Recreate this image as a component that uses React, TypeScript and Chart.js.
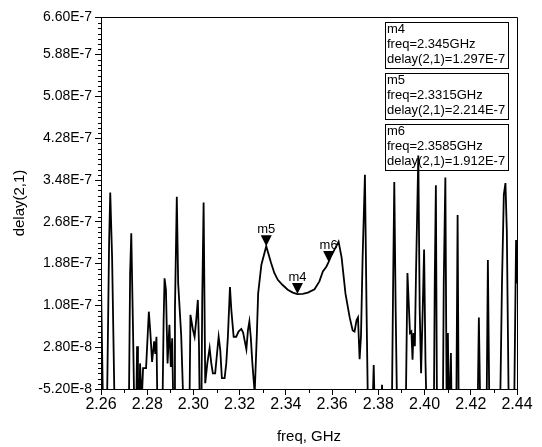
import React, { useEffect, useRef } from 'react';
import { Chart, registerables } from 'chart.js';

Chart.register(...registerables);

// Frequency samples (GHz)
const freqGHz = [
  2.2600, 2.2610, 2.2625, 2.2635, 2.2640, 2.2648, 2.2660, 2.2720, 2.2726, 2.2731,
  2.2739, 2.2745, 2.2752, 2.2756, 2.2760, 2.2765, 2.2769, 2.2776, 2.2782, 2.2795,
  2.2807, 2.2813, 2.2821, 2.2830, 2.2835, 2.2840, 2.2845, 2.2865, 2.2871, 2.2875,
  2.2881, 2.2888, 2.2896, 2.2902, 2.2908, 2.2914, 2.2917, 2.2920, 2.2928, 2.2934,
  2.2947, 2.2959, 2.2982, 2.2987, 2.2998, 2.3005, 2.3012, 2.3019, 2.3024, 2.3028,
  2.3034, 2.3038, 2.3044, 2.3051, 2.3060, 2.3070, 2.3077, 2.3084, 2.3094, 2.3102,
  2.3109, 2.3116, 2.3123, 2.3135, 2.3142, 2.3149, 2.3158, 2.3164, 2.3174, 2.3185,
  2.3195, 2.3207, 2.3215, 2.3221, 2.3229, 2.3236, 2.3242, 2.3248, 2.3255, 2.3265,
  2.3274, 2.3280, 2.3294, 2.3315, 2.3336, 2.3350, 2.3365, 2.3386, 2.3408, 2.3430,
  2.3450, 2.3473, 2.3495, 2.3524, 2.3545, 2.3560, 2.3575, 2.3585, 2.3594, 2.3628,
  2.3641, 2.3658, 2.3676, 2.3689, 2.3697, 2.3706, 2.3712, 2.3719, 2.3725, 2.3732,
  2.3742, 2.3749, 2.3756, 2.3773, 2.3780, 2.3786, 2.3810, 2.3816, 2.3821, 2.3858,
  2.3864, 2.3869, 2.3875, 2.3882, 2.3918, 2.3926, 2.3937, 2.3943, 2.3948, 2.3952,
  2.3958, 2.3963, 2.3973, 2.3979, 2.3985, 2.3992, 2.3998, 2.4004, 2.4010, 2.4040,
  2.4044, 2.4049, 2.4054, 2.4079, 2.4083, 2.4090, 2.4096, 2.4101, 2.4105, 2.4114,
  2.4118, 2.4137, 2.4143, 2.4148, 2.4229, 2.4235, 2.4242, 2.4268, 2.4274, 2.4281,
  2.4326, 2.4335, 2.4343, 2.4350, 2.4356, 2.4365, 2.4387, 2.4396, 2.4400,
];

// Group delay, in units of 1E-8 s
const delayE8 = [
  15.1, -12, -12, 22.7, 32.4, 20, -12, -12, 17, 24.6,
  5, -12, -12, 3.0, -8, -12, -0.3, -8, -1.2, -1.2,
  9.6, 6, 0, 3.9, 1.5, 4.8, -12, -12, 8, 16.0,
  13.8, -0.3, 7.1, -1.0, 4.5, -12, -12, 10, 31.6, 15,
  5.1, -12, -12, 9.0, 6.1, 4.8, 8.0, 11.85, 3, -12,
  -12, 11.85, 30.5, -4.1, -0.3, 2.66, -0.2, -2.2, -2.2, 1.6,
  4.8, 2.3, -3.1, -3.1, -0.3, 4.8, 14.3, 9.9, 4.8, 4.8,
  5.8, 6.3, 5.6, 4.2, 2.4, 6.1, 7.7, 4.8, -0.3, -6,
  4.8, 13.1, 18.6, 22.14, 18.9, 17.0, 15.7, 14.7, 13.8, 13.25,
  12.97, 13.0, 13.25, 13.9, 15.4, 17.3, 18.2, 19.12, 20.1, 23.0,
  20, 13, 8.5, 6.0, 5.8, 8.0, 8.5, 0.5, 5, 20,
  35.8, 10, -12, -12, -0.6, -12, -12, -4.4, -12, -12,
  15, 34.4, 10, -12, -12, 17, 5.5, 5.8, 0.4, 5.5,
  3, 17, 39.5, 10, -2.2, 10, 21.5, 0, -12, -12,
  15, 33.8, -12, -12, 15, 35.3, -12, 5.5, -12, 1.7,
  -12, -12, 28.1, -12, -12, 8.5, -12, -12, 19.5, -12,
  -12, 15, 32, 34.2, 25, -12, -12, 23.3, 15,
];

const xTickValues = [2.26, 2.28, 2.30, 2.32, 2.34, 2.36, 2.38, 2.40, 2.42, 2.44];
const yTickValues = [-5.2e-8, 2.8e-8, 1.08e-7, 1.88e-7, 2.68e-7, 3.48e-7, 4.28e-7, 5.08e-7, 5.88e-7, 6.6e-7];

const markerNames = ['m4', 'm5', 'm6'];
const markerFreq = [2.345, 2.3315, 2.3585];
const markerDelay = [1.297e-7, 2.214e-7, 1.912e-7];

const FONT = "'Liberation Sans', Arial, sans-serif";

const overlayPlugin = {
  id: 'adsOverlay',
  beforeDatasetsDraw(chart: any) {
    const ctx = chart.ctx;
    ctx.save();
    ctx.strokeStyle = '#000';
    ctx.lineWidth = 1;
    ctx.fillStyle = '#000';
    ctx.font = `13px ${FONT}`;
    ctx.textAlign = 'left';
    ctx.textBaseline = 'alphabetic';
    const bx = 385;
    const bw = 123;
    const bh = 46;
    for (let i = 0; i < markerNames.length; i++) {
      const by = 22 + i * 51;
      ctx.strokeRect(bx + 0.5, by + 0.5, bw, bh);
      ctx.fillText(markerNames[i], bx + 2, by + 11);
      ctx.fillText(`freq=${markerFreq[i]}GHz`, bx + 2, by + 26);
      ctx.fillText(`delay(2,1)=${markerDelay[i].toExponential(3).toUpperCase()}`, bx + 2, by + 41);
    }
    ctx.restore();
  },
  afterDatasetsDraw(chart: any) {
    const ctx = chart.ctx;
    const xs = chart.scales.x;
    const ys = chart.scales.y;
    ctx.save();
    ctx.fillStyle = '#000';
    ctx.font = `13px ${FONT}`;
    ctx.textAlign = 'center';
    ctx.textBaseline = 'alphabetic';
    for (let i = 0; i < markerNames.length; i++) {
      const px = xs.getPixelForValue(markerFreq[i]);
      const py = ys.getPixelForValue(markerDelay[i]);
      ctx.beginPath();
      ctx.moveTo(px, py);
      ctx.lineTo(px - 5.5, py - 11);
      ctx.lineTo(px + 5.5, py - 11);
      ctx.closePath();
      ctx.fill();
      ctx.fillText(markerNames[i], px, py - 13);
    }
    ctx.restore();
  },
  afterDraw(chart: any) {
    const ctx = chart.ctx;
    const { left, right, top, bottom } = chart.chartArea;
    const xs = chart.scales.x;
    const ys = chart.scales.y;
    ctx.save();
    ctx.strokeStyle = '#000';
    ctx.lineWidth = 1;
    ctx.beginPath();
    // frame top and right
    ctx.moveTo(Math.round(left), Math.round(top) + 0.5);
    ctx.lineTo(Math.round(right) + 0.5, Math.round(top) + 0.5);
    ctx.lineTo(Math.round(right) + 0.5, Math.round(bottom));
    // x minor ticks
    for (let k = 0; k < xTickValues.length - 1; k++) {
      const v = (xTickValues[k] + xTickValues[k + 1]) / 2;
      const px = Math.round(xs.getPixelForValue(v)) + 0.5;
      ctx.moveTo(px, bottom);
      ctx.lineTo(px, bottom + 4);
    }
    // y minor ticks (every 1E-8)
    for (let k = 0; k < yTickValues.length - 1; k++) {
      const a = yTickValues[k];
      const b = yTickValues[k + 1];
      const n = Math.round((b - a) / 1e-8);
      for (let j = 1; j < n; j++) {
        const v = a + j * 1e-8;
        const py = Math.round(ys.getPixelForValue(v)) + 0.5;
        ctx.moveTo(left - 3, py);
        ctx.lineTo(left, py);
      }
    }
    ctx.stroke();
    ctx.restore();
  },
};

export default function App() {
  const canvasRef = useRef<HTMLCanvasElement | null>(null);

  useEffect(() => {
    const canvas = canvasRef.current;
    if (!canvas) return;
    const data = freqGHz.map((f, i) => ({ x: f, y: delayE8[i] * 1e-8 }));
    const chart = new Chart(canvas, {
      type: 'line',
      data: {
        datasets: [
          {
            data,
            borderColor: '#000',
            borderWidth: 1.8,
            pointRadius: 0,
            tension: 0,
            fill: false,
          },
        ],
      },
      options: {
        animation: false,
        responsive: false,
        devicePixelRatio: 1,
        layout: { padding: { left: 0, right: 25, top: 17, bottom: 0 } },
        plugins: {
          legend: { display: false },
          tooltip: { enabled: false },
        },
        scales: {
          x: {
            type: 'linear',
            min: 2.26,
            max: 2.44,
            afterBuildTicks: (scale: any) => {
              scale.ticks = xTickValues.map((v) => ({ value: v }));
            },
            afterFit: (scale: any) => {
              scale.height = 58;
            },
            ticks: {
              color: '#000',
              font: { family: FONT, size: 16 },
              padding: 0,
              maxRotation: 0,
              autoSkip: false,
              callback: (v: any) => Number(v).toFixed(2),
            },
            grid: {
              display: true,
              drawOnChartArea: false,
              drawTicks: true,
              tickLength: 6,
              color: '#000',
            },
            border: { display: true, color: '#000', width: 1 },
            title: {
              display: true,
              text: 'freq, GHz',
              color: '#000',
              font: { family: FONT, size: 15 },
              padding: { top: 0, bottom: 1 },
            },
          },
          y: {
            type: 'linear',
            min: -5.2e-8,
            max: 6.6e-7,
            afterBuildTicks: (scale: any) => {
              scale.ticks = yTickValues.map((v) => ({ value: v }));
            },
            afterFit: (scale: any) => {
              scale.width = 101;
            },
            ticks: {
              color: '#000',
              font: { family: FONT, size: 14 },
              padding: 3,
              autoSkip: false,
              callback: (v: any) => Number(v).toExponential(2).toUpperCase(),
            },
            grid: {
              display: true,
              drawOnChartArea: false,
              drawTicks: true,
              tickLength: 6,
              color: '#000',
            },
            border: { display: true, color: '#000', width: 1 },
            title: {
              display: true,
              text: 'delay(2,1)',
              color: '#000',
              font: { family: FONT, size: 15 },
              padding: { top: 11, bottom: 0 },
            },
          },
        },
      },
      plugins: [overlayPlugin],
    });
    return () => chart.destroy();
  }, []);

  return (
    <div style={{ position: 'absolute', left: 0, top: 0, width: 542, height: 447, background: '#fff' }}>
      <canvas ref={canvasRef} width={542} height={447} style={{ display: 'block', width: 542, height: 447 }} />
    </div>
  );
}
